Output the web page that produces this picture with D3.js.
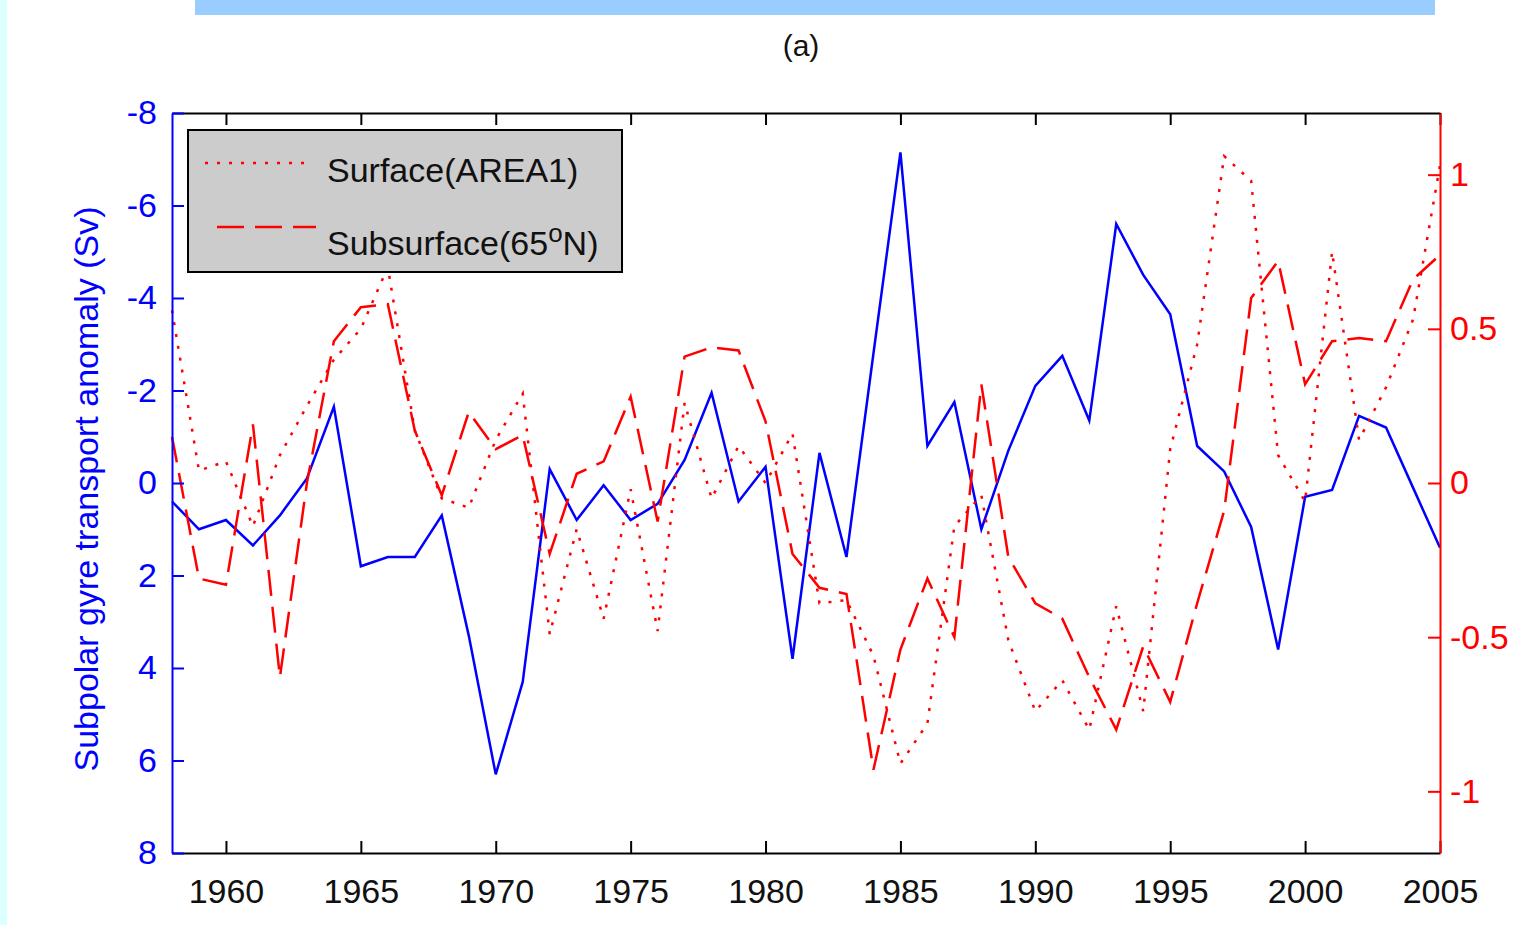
<!DOCTYPE html>
<html>
<head>
<meta charset="utf-8">
<script src="https://cdn.jsdelivr.net/npm/d3@7"></script>
<style>
  html, body { margin: 0; padding: 0; background: #fff; }
  svg { display: block; font-family: "Liberation Sans", Arial, sans-serif; }
</style>
</head>
<body>
<svg id="chart"></svg>
<script>
// Data
const years = [1958, 1959, 1960, 1961, 1962, 1963, 1964, 1965, 1966, 1967,
  1968, 1969, 1970, 1971, 1972, 1973, 1974, 1975, 1976, 1977,
  1978, 1979, 1980, 1981, 1982, 1983, 1984, 1985, 1986, 1987,
  1988, 1989, 1990, 1991, 1992, 1993, 1994, 1995, 1996, 1997,
  1998, 1999, 2000, 2001, 2002, 2003, 2004, 2005];

// Subpolar gyre transport anomaly (Sv), left axis (reversed)
const transport = [0.4, 1.0, 0.8, 1.35, 0.7, -0.1, -1.65, 1.8, 1.6, 1.6,
  0.7, 3.3, 6.3, 4.3, -0.3, 0.8, 0.05, 0.8, 0.45, -0.5,
  -1.95, 0.4, -0.35, 3.8, -0.65, 1.6, -2.8, -7.15, -0.8, -1.75,
  1.0, -0.7, -2.1, -2.75, -1.35, -5.6, -4.5, -3.65, -0.8, -0.25,
  0.95, 3.6, 0.3, 0.15, -1.45, -1.2, 0.1, 1.4];

// Surface(AREA1), right axis, dotted
const surface = [0.56, 0.04, 0.07, -0.14, 0.09, 0.25, 0.4, 0.5, 0.7, 0.17,
  -0.05, -0.08, 0.14, 0.29, -0.49, -0.15, -0.44, -0.02, -0.48, 0.26,
  -0.05, 0.12, 0.0, 0.16, -0.39, -0.38, -0.56, -0.91, -0.78, -0.14,
  -0.04, -0.51, -0.74, -0.64, -0.8, -0.4, -0.74, 0.11, 0.45, 1.06,
  0.98, 0.09, -0.06, 0.75, 0.14, 0.31, 0.53, 1.03];

// Subsurface(65N), right axis, dashed
const subsurface = [0.15, -0.31, -0.33, 0.19, -0.63, 0.0, 0.46, 0.57, 0.58, 0.17,
  -0.04, 0.23, 0.11, 0.155, -0.23, 0.03, 0.07, 0.28, -0.125, 0.41,
  0.44, 0.43, 0.2, -0.23, -0.34, -0.36, -0.93, -0.54, -0.31, -0.5,
  0.32, -0.24, -0.39, -0.44, -0.63, -0.8, -0.53, -0.71, -0.39, -0.09,
  0.6, 0.72, 0.32, 0.46, 0.47, 0.46, 0.66, 0.74];

const xTicks = [1960, 1965, 1970, 1975, 1980, 1985, 1990, 1995, 2000, 2005];
const leftTicks = [-8, -6, -4, -2, 0, 2, 4, 6, 8];
const rightTicks = [-1, -0.5, 0, 0.5, 1];

const svg = d3.select("#chart").attr("width", 1539).attr("height", 925);
const margin = {top: 113, right: 99, bottom: 72, left: 172};
const width = 1539 - margin.left - margin.right,
      height = 925 - margin.top - margin.bottom;

// page bits around the figure
svg.append("rect").attr("x", 0).attr("y", 0).attr("width", 7).attr("height", 925).attr("fill", "#dcffff");
svg.append("rect").attr("x", 195).attr("y", 0).attr("width", 1240).attr("height", 15).attr("fill", "#99ccff");

svg.append("text")
  .attr("x", 801).attr("y", 56)
  .attr("text-anchor", "middle")
  .style("font-size", "30px")
  .attr("fill", "#111")
  .text("(a)");

const g = svg.append("g").attr("transform", "translate(" + margin.left + "," + margin.top + ")");

// scales
const x = d3.scaleLinear().domain([1958, 2005]).range([0, width]);
const yLeft = d3.scaleLinear().domain([-8, 8]).range([0, height]); // reversed axis
const yRight = d3.scaleLinear().domain([-1.2, 1.2]).range([height, 0]);

// lines
const blueLine = d3.line().x((d, i) => x(years[i])).y(d => yLeft(d));
const redLine = d3.line().x((d, i) => x(years[i])).y(d => yRight(d));

g.append("path")
  .datum(transport)
  .attr("fill", "none")
  .attr("stroke", "#0000ff")
  .attr("stroke-width", 2.5)
  .attr("d", blueLine);

g.append("path")
  .datum(surface)
  .attr("fill", "none")
  .attr("stroke", "#ff0000")
  .attr("stroke-width", 2.5)
  .attr("stroke-dasharray", "3,9")
  .attr("d", redLine);

g.append("path")
  .datum(subsurface)
  .attr("fill", "none")
  .attr("stroke", "#ff0000")
  .attr("stroke-width", 2.5)
  .attr("stroke-dasharray", "26,11")
  .attr("d", redLine);

function styleAxis(sel, color) {
  sel.attr("color", color);
  sel.selectAll("path.domain, line").attr("stroke-width", 2);
  sel.selectAll("text").style("font-size", "34px").style("font-family", "\"Liberation Sans\", Arial, sans-serif");
}

// top axis (ticks only)
g.append("g")
  .call(d3.axisTop(x).tickValues(xTicks).tickFormat(() => "").tickSizeInner(-12).tickSizeOuter(0))
  .call(styleAxis, "#000");

// bottom axis
g.append("g")
  .attr("transform", "translate(0," + height + ")")
  .call(d3.axisBottom(x).tickValues(xTicks).tickFormat(d3.format("d")).tickSizeInner(-12).tickSizeOuter(0).tickPadding(26))
  .call(styleAxis, "#000")
  .selectAll("text").attr("fill", "#111");

// left axis
g.append("g")
  .call(d3.axisLeft(yLeft).tickValues(leftTicks).tickFormat(d => String(d)).tickSizeInner(-12).tickSizeOuter(0).tickPadding(15))
  .call(styleAxis, "#0000ff");

// right axis
g.append("g")
  .attr("transform", "translate(" + width + ",0)")
  .call(d3.axisRight(yRight).tickValues(rightTicks).tickFormat(d => String(d)).tickSizeInner(-12).tickSizeOuter(0).tickPadding(10))
  .call(styleAxis, "#ff0000");

// left axis title
g.append("text")
  .attr("transform", "rotate(-90)")
  .attr("x", -(489 - margin.top))
  .attr("y", 98 - margin.left)
  .attr("text-anchor", "middle")
  .attr("fill", "#0000ff")
  .style("font-size", "34px")
  .text("Subpolar gyre transport anomaly (Sv)");

// legend
const legend = g.append("g").attr("transform", "translate(16,17)");
legend.append("rect")
  .attr("width", 434).attr("height", 142)
  .attr("fill", "#cccccc")
  .attr("stroke", "#000")
  .attr("stroke-width", 2);

legend.append("line")
  .attr("x1", 17).attr("x2", 122).attr("y1", 33).attr("y2", 33)
  .attr("stroke", "#ff0000").attr("stroke-width", 2.5).attr("stroke-dasharray", "3,9");
legend.append("line")
  .attr("x1", 29).attr("x2", 128).attr("y1", 97).attr("y2", 97)
  .attr("stroke", "#ff0000").attr("stroke-width", 2.5).attr("stroke-dasharray", "27,11");

legend.append("text")
  .attr("x", 139).attr("y", 52)
  .attr("fill", "#111")
  .style("font-size", "34px")
  .text("Surface(AREA1)");

const sub = legend.append("text")
  .attr("x", 139).attr("y", 125)
  .attr("fill", "#111")
  .style("font-size", "34px");
sub.append("tspan").text("Subsurface(65");
sub.append("tspan").attr("dy", -13).style("font-size", "26px").text("o");
sub.append("tspan").attr("dy", 13).text("N)");
</script>
</body>
</html>
